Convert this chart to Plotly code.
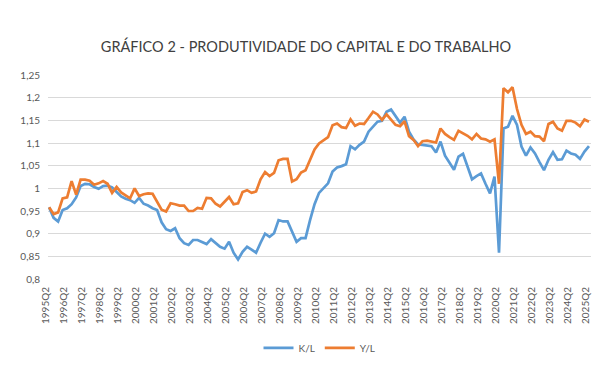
import plotly.graph_objects as go

quarters = []
y, q = 1995, 2
for _ in range(121):
    quarters.append(f"{y}Q{q}")
    q += 1
    if q > 4:
        q = 1
        y += 1

k_l = [0.958, 0.935, 0.927, 0.952, 0.956, 0.965, 0.980, 1.005, 1.010, 1.009,
       1.003, 0.999, 1.005, 1.006, 1.002, 0.992, 0.982, 0.977, 0.974, 0.968,
       0.979, 0.966, 0.962, 0.956, 0.952, 0.925, 0.910, 0.906, 0.912, 0.890,
       0.879, 0.875, 0.886, 0.886, 0.881, 0.877, 0.888, 0.879, 0.871, 0.867,
       0.882, 0.858, 0.843, 0.860, 0.871, 0.865, 0.858, 0.880, 0.900, 0.893,
       0.901, 0.930, 0.927, 0.927, 0.905, 0.882, 0.890, 0.890, 0.930, 0.965,
       0.990, 1.000, 1.011, 1.037, 1.046, 1.049, 1.053, 1.093, 1.086, 1.096,
       1.103, 1.125, 1.137, 1.147, 1.149, 1.169, 1.174, 1.158, 1.145, 1.158,
       1.125, 1.108, 1.097, 1.096, 1.095, 1.093, 1.079, 1.103, 1.072, 1.055,
       1.041, 1.070, 1.076, 1.048, 1.020, 1.027, 1.033, 1.010, 0.989, 1.026,
       0.858, 1.132, 1.136, 1.160, 1.140, 1.092, 1.072, 1.090, 1.077, 1.058,
       1.040, 1.063, 1.080, 1.063, 1.064, 1.083, 1.077, 1.074, 1.065, 1.081,
       1.093]

y_l = [0.958, 0.943, 0.947, 0.978, 0.980, 1.016, 0.986, 1.019, 1.019, 1.017,
       1.008, 1.011, 1.016, 1.010, 0.990, 1.003, 0.991, 0.984, 0.978, 1.000,
       0.983, 0.987, 0.989, 0.988, 0.972, 0.953, 0.949, 0.967, 0.965, 0.962,
       0.962, 0.950, 0.950, 0.957, 0.955, 0.979, 0.978, 0.966, 0.960, 0.971,
       0.981, 0.965, 0.967, 0.992, 0.996, 0.990, 0.993, 1.020, 1.036, 1.027,
       1.034, 1.062, 1.065, 1.065, 1.015, 1.020, 1.035, 1.040, 1.062, 1.086,
       1.099, 1.106, 1.113, 1.139, 1.143, 1.135, 1.133, 1.152, 1.138, 1.143,
       1.142, 1.155, 1.169, 1.163, 1.151, 1.163, 1.152, 1.140, 1.137, 1.148,
       1.115, 1.107, 1.093, 1.104, 1.105, 1.103, 1.101, 1.132, 1.120, 1.113,
       1.107, 1.127, 1.121, 1.116, 1.108, 1.120, 1.110, 1.108, 1.103, 1.108,
       1.010, 1.221, 1.212, 1.223, 1.175, 1.140, 1.120, 1.125, 1.115, 1.114,
       1.104, 1.142, 1.147, 1.132, 1.127, 1.149, 1.149, 1.145, 1.137, 1.152,
       1.147]

y_ticks = [0.8, 0.85, 0.9, 0.95, 1.0, 1.05, 1.1, 1.15, 1.2, 1.25]
y_tick_text = ["0,8", "0,85", "0,9", "0,95", "1", "1,05", "1,1", "1,15", "1,2", "1,25"]

x_idx = list(range(len(quarters)))
x_tickvals = x_idx[::4]
x_ticktext = quarters[::4]

FONT = "Lato"
GRAY = "#595959"

fig = go.Figure()
fig.add_trace(go.Scatter(x=x_idx, y=k_l, mode="lines", name="K/L",
                         line=dict(color="#5B9BD5", width=2.7)))
fig.add_trace(go.Scatter(x=x_idx, y=y_l, mode="lines", name="Y/L",
                         line=dict(color="#ED7D31", width=2.7)))

fig.update_layout(
    width=596, height=374,
    margin=dict(l=29, r=13, t=67, b=103),
    paper_bgcolor="white", plot_bgcolor="white",
    font=dict(family=FONT, color=GRAY, size=10),
    title=dict(text="GRÁFICO 2 - PRODUTIVIDADE DO CAPITAL E DO TRABALHO",
               x=0.5, xanchor="center", y=0.896, yanchor="middle",
               font=dict(family=FONT, size=14.5, color="#404040")),
    showlegend=True,
    legend=dict(orientation="h", x=0.5, xanchor="center", y=-0.338, yanchor="middle",
                font=dict(size=10, color=GRAY), itemwidth=30, tracegroupgap=0),
    xaxis=dict(range=[-0.25, 120.45], tickmode="array", tickvals=x_tickvals,
               ticktext=x_ticktext, tickangle=-90, showgrid=False, zeroline=False,
               showline=False, ticks="", ticklabelstandoff=5, ticklabelshift=-3,
               tickfont=dict(size=10, color=GRAY)),
    yaxis=dict(range=[0.8, 1.25], tickmode="array", tickvals=y_ticks,
               ticktext=y_tick_text, showgrid=True, gridcolor="#D9D9D9",
               gridwidth=1, zeroline=False, showline=False, ticks="",
               ticklabelstandoff=7, tickfont=dict(size=10, color=GRAY)),
)

fig.write_html("out.html")
